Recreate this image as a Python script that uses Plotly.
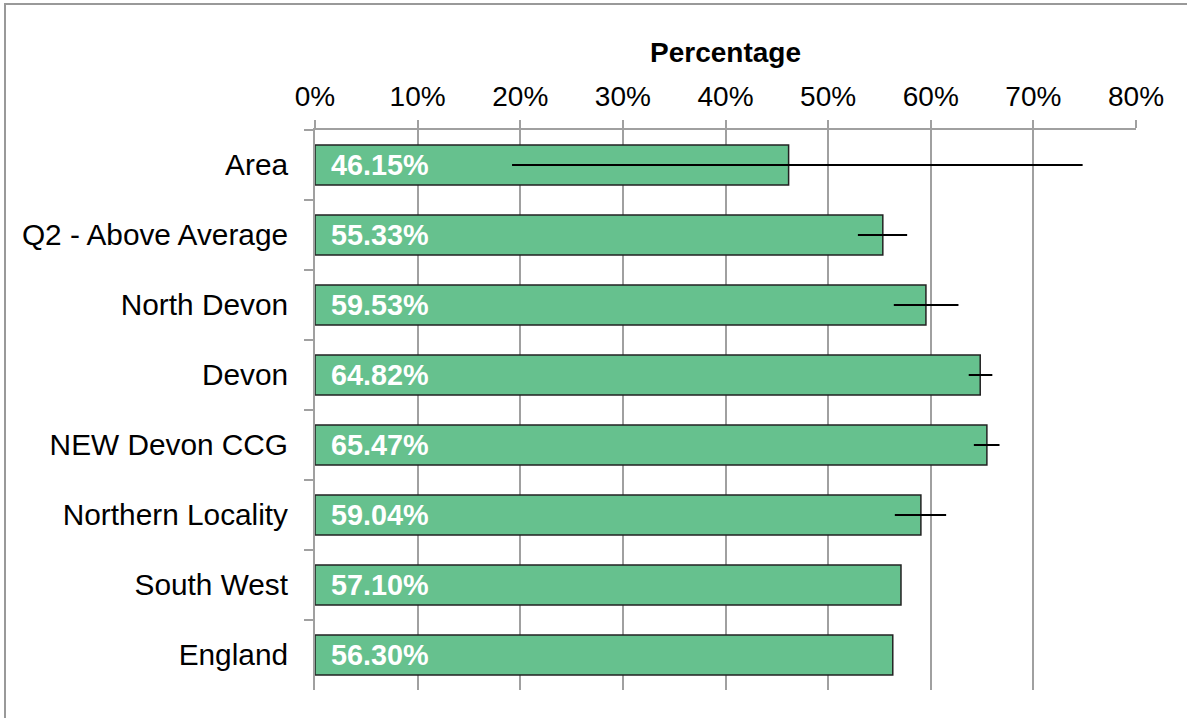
import plotly.graph_objects as go

categories = ["Area", "Q2 - Above Average", "North Devon", "Devon", "NEW Devon CCG",
              "Northern Locality", "South West", "England"]
values = [46.15, 55.33, 59.53, 64.82, 65.47, 59.04, 57.10, 56.30]
ci_lower = [19.2, 52.9, 56.4, 63.7, 64.2, 56.5, None, None]
ci_upper = [74.8, 57.7, 62.7, 66.0, 66.7, 61.5, None, None]
x_ticks = [0, 10, 20, 30, 40, 50, 60, 70, 80]
x_tick_labels = ["0%", "10%", "20%", "30%", "40%", "50%", "60%", "70%", "80%"]

err_plus = [(u - v) if u is not None else 0 for u, v in zip(ci_upper, values)]
err_minus = [(v - l) if l is not None else 0 for l, v in zip(ci_lower, values)]

W, H = 1187, 718
ml, mr, mt, mb = 315, 51, 130, 28
pw, ph = W - ml - mr, H - mt - mb

fig = go.Figure()
fig.add_trace(go.Bar(
    y=categories, x=values, orientation="h",
    marker=dict(color="#66C18E", line=dict(color="#222222", width=1.5)),
    width=0.57,
    error_x=dict(type="data", symmetric=False, array=err_plus, arrayminus=err_minus,
                 color="black", thickness=2, width=0),
    hoverinfo="x+y",
))

for c, v in zip(categories, values):
    fig.add_annotation(x=0, y=c, xref="x", yref="y", text=f"<b>{v:.2f}%</b>",
                       showarrow=False, xanchor="left", yanchor="middle", xshift=14,
                       font=dict(family="Liberation Sans, Arial, sans-serif", size=28.8, color="white"))

# outer frame (left and top edges visible)
fig.add_shape(type="rect", xref="paper", yref="paper",
              x0=(5 - ml) / pw, x1=(W + 20 - ml) / pw,
              y0=-(mb + 20) / ph, y1=(ph + mt - 4) / ph,
              line=dict(color="#999999", width=2), fillcolor="rgba(0,0,0,0)", layer="below")

fig.update_layout(
    width=W, height=H,
    margin=dict(l=ml, r=mr, t=mt, b=mb),
    paper_bgcolor="white", plot_bgcolor="white",
    font=dict(family="Liberation Sans, Arial, sans-serif", color="black"),
    showlegend=False,
    bargap=0.43,
    xaxis=dict(
        side="top", range=[0, 80], tickvals=x_ticks, ticktext=x_tick_labels,
        showgrid=True, gridcolor="#a0a0a0", gridwidth=2,
        showline=True, linecolor="#a0a0a0", linewidth=2,
        ticks="outside", ticklen=8, tickcolor="#a0a0a0", tickwidth=2,
        tickfont=dict(size=28), ticklabelstandoff=3,
        title=dict(text="<b>Percentage</b>", font=dict(size=28), standoff=10),
        zeroline=False, fixedrange=True, automargin=False,
    ),
    yaxis=dict(
        autorange="reversed", type="category",
        showline=True, linecolor="#a0a0a0", linewidth=2,
        ticks="outside", ticklen=9, tickcolor="#a0a0a0", tickwidth=2,
        tickson="boundaries", showgrid=False,
        tickfont=dict(size=29.8), ticklabelstandoff=19,
        fixedrange=True, automargin=False,
    ),
)

fig.write_html("out.html", config={"displayModeBar": False},
               post_script="document.body.style.margin='0';document.body.style.overflow='hidden';")
